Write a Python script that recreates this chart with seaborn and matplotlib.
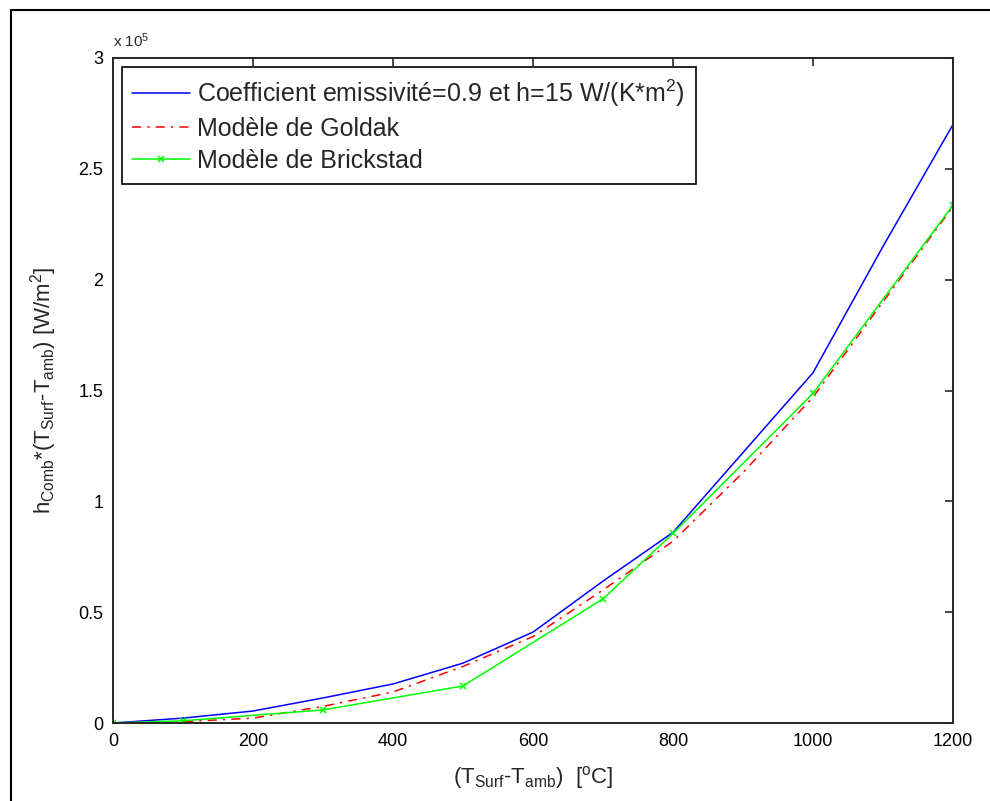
import numpy as np
import pandas as pd
import matplotlib
matplotlib.use("Agg")
import matplotlib.pyplot as plt
import seaborn as sns
from matplotlib.lines import Line2D
from matplotlib.ticker import FuncFormatter, FixedLocator

# ---- data (W/m^2) ----
temp_blue = [0, 100, 200, 300, 400, 500, 600, 700, 800, 900, 1000, 1100, 1200]
emissivity_blue = [0, 2200, 5400, 11300, 17600, 27000, 41000, 64000, 86000, 122000, 158000, 215000, 270000]

temp_red = [0, 100, 200, 300, 400, 500, 600, 700, 800, 900, 1000, 1100, 1200]
goldak_red = [0, 600, 2200, 7500, 14000, 25500, 39000, 60000, 82000, 113000, 147000, 190000, 233000]

temp_green = [0, 100, 300, 500, 700, 800, 1000, 1200]
brickstad_green = [0, 1000, 5900, 16700, 56000, 85500, 148700, 233600]

labels = ["Coefficient emissivité=0.9 et h=15 W/(K*m$^2$)",
          "Modèle de Goldak",
          "Modèle de Brickstad"]
xticks = [0, 200, 400, 600, 800, 1000, 1200]
yticks = [0, 50000, 100000, 150000, 200000, 250000, 300000]

sns.set_style("white")
plt.rcParams['font.family'] = ['Liberation Sans', 'DejaVu Sans']
plt.rcParams['mathtext.default'] = 'regular'
plt.rcParams['mathtext.fontset'] = 'custom'
plt.rcParams['mathtext.rm'] = 'Liberation Sans'

fig = plt.figure(figsize=(9.9, 8.01), dpi=100)
ax = fig.add_axes([113/990, 1-723/801, (953-113)/990, (723-58)/801])

df_b = pd.DataFrame({"x": temp_blue, "y": emissivity_blue})
df_r = pd.DataFrame({"x": temp_red, "y": goldak_red})
df_g = pd.DataFrame({"x": temp_green, "y": brickstad_green})

sns.lineplot(data=df_b, x="x", y="y", ax=ax, color="#0000FF", lw=1.1,
             label=labels[0], estimator=None, sort=False)
sns.lineplot(data=df_r, x="x", y="y", ax=ax, color="#FF0000", lw=1.1,
             label=labels[1], estimator=None, sort=False)
ax.lines[-1].set_linestyle((0, (6, 4, 1.5, 4)))
sns.lineplot(data=df_g, x="x", y="y", ax=ax, color="#00FF00", lw=1.1,
             label=labels[2], estimator=None, sort=False)
gl = ax.lines[-1]
gl.set_linestyle("-")
gl.set_marker("x")
gl.set_markersize(5)
gl.set_markeredgewidth(1.1)
gl.set_markeredgecolor("#00FF00")

ax.set_xlim(0, 1200)
ax.set_ylim(0, 300000)
ax.xaxis.set_major_locator(FixedLocator(xticks))
ax.yaxis.set_major_locator(FixedLocator(yticks))
ax.yaxis.set_major_formatter(FuncFormatter(lambda v, p: f"{v/1e5:g}"))

for s in ax.spines.values():
    s.set_visible(True)
    s.set_color("#262626")
    s.set_linewidth(1.4)
ax.tick_params(direction="in", length=6, width=1.2, top=True, right=True,
               labelsize=13, colors="#262626", labelcolor="black", pad=7)

ax.set_xlabel("(T$_{Surf}$-T$_{amb}$)  [$^o$C]", fontsize=16, labelpad=10)
ax.set_ylabel("h$_{Comb}$*(T$_{Surf}$-T$_{amb}$) [W/m$^2$]", fontsize=16, labelpad=14)

ax.text(0.0, 1.012, "x 10$^5$", transform=ax.transAxes, fontsize=11,
        ha="left", va="bottom")

leg = ax.legend(handles=ax.lines[:3], labels=labels, loc="upper left",
                fontsize=18, frameon=True, fancybox=False, numpoints=1,
                edgecolor="black", handlelength=2.3, borderaxespad=0.35,
                labelspacing=0.33, handletextpad=0.3, borderpad=0.42)
leg.get_frame().set_linewidth(1.2)
leg.get_frame().set_alpha(1)

# figure border (left and top)
fig.add_artist(Line2D([11/990, 11/990], [0, 1-10/801], color="black", lw=1.5,
                      transform=fig.transFigure))
fig.add_artist(Line2D([11/990, 1], [1-10/801, 1-10/801], color="black", lw=1.5,
                      transform=fig.transFigure))

fig.savefig("out.png", dpi=100)
